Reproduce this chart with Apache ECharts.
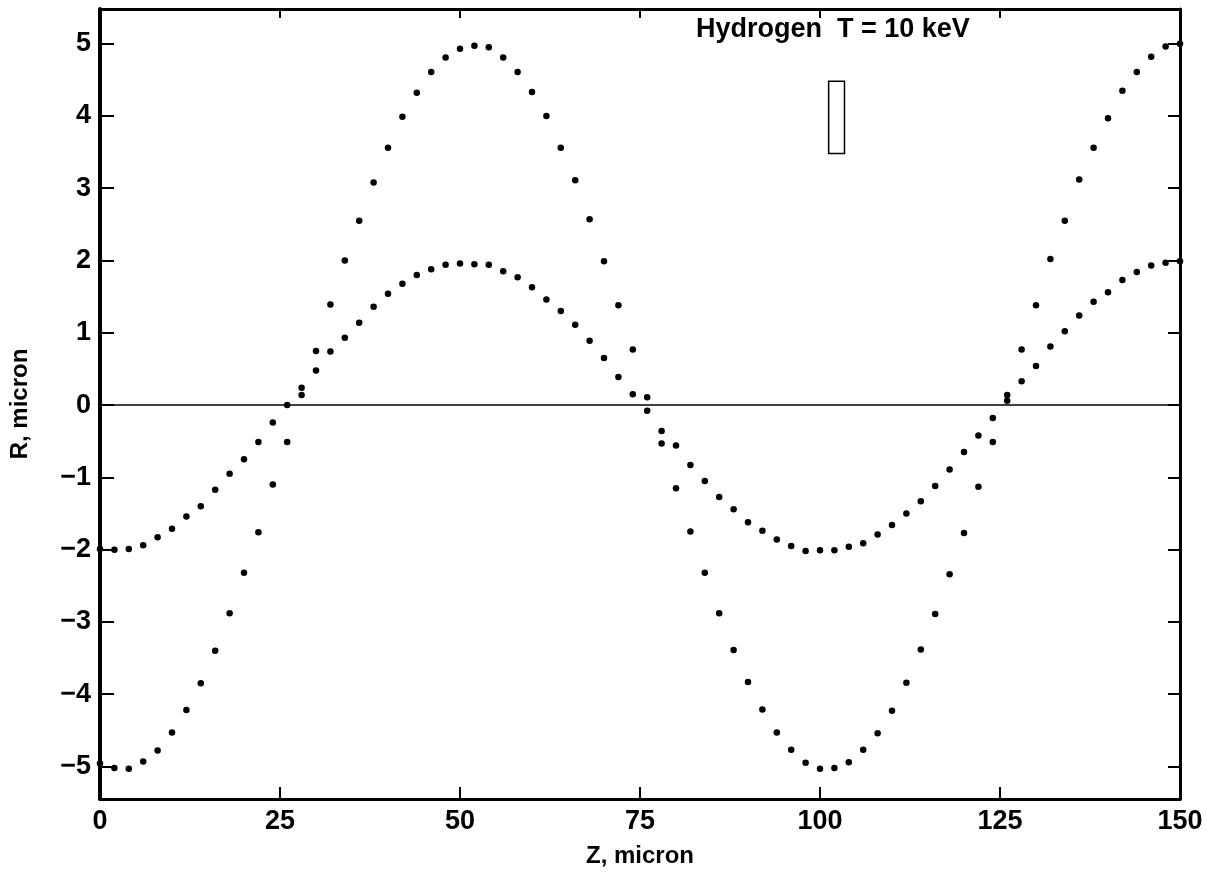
<!DOCTYPE html>
<html>
<head>
<meta charset="utf-8">
<title>Hydrogen T = 10 keV</title>
<script src="https://cdn.jsdelivr.net/npm/echarts@6.0.0/dist/echarts.min.js"></script>
<style>
  html, body { margin: 0; padding: 0; background: #fff; }
  #chart { width: 1207px; height: 875px; }
</style>
</head>
<body>
<div id="chart"></div>
<script>
// z positions of the plotted points (micron)
const zValues = [
  0, 2, 4, 6, 8, 10, 12, 14, 16, 18, 20, 22, 24, 26, 28, 30, 32, 34, 36, 38,
  40, 42, 44, 46, 48, 50, 52, 54, 56, 58, 60, 62, 64, 66, 68, 70, 72, 74, 76, 78,
  80, 82, 84, 86, 88, 90, 92, 94, 96, 98, 100, 102, 104, 106, 108, 110, 112, 114, 116, 118,
  120, 122, 124, 126, 128, 130, 132, 134, 136, 138, 140, 142, 144, 146, 148, 150,
];

// outer trajectory, R in micron
const outerR = [
  -4.96, -5.02, -5.03, -4.93, -4.78, -4.53, -4.22, -3.85, -3.40, -2.88,
  -2.32, -1.76, -1.10, -0.51, 0.14, 0.75, 1.39, 2.00, 2.55, 3.08,
  3.56, 3.99, 4.32, 4.61, 4.81, 4.93, 4.97, 4.95, 4.81, 4.61,
  4.33, 4.00, 3.56, 3.11, 2.57, 1.99, 1.38, 0.77, 0.11, -0.53,
  -1.15, -1.75, -2.32, -2.88, -3.39, -3.83, -4.21, -4.53, -4.77, -4.95,
  -5.03, -5.02, -4.94, -4.77, -4.54, -4.23, -3.84, -3.38, -2.89, -2.34,
  -1.77, -1.13, -0.51, 0.14, 0.77, 1.38, 2.02, 2.55, 3.12, 3.56,
  3.97, 4.35, 4.61, 4.82, 4.96, 5.00,
];

// inner trajectory, R in micron
const innerR = [
  -1.99, -2.00, -1.99, -1.94, -1.83, -1.71, -1.54, -1.40, -1.17, -0.95,
  -0.75, -0.51, -0.24, 0.00, 0.24, 0.48, 0.74, 0.93, 1.14, 1.36,
  1.54, 1.68, 1.80, 1.88, 1.94, 1.96, 1.95, 1.94, 1.85, 1.77,
  1.63, 1.46, 1.30, 1.11, 0.89, 0.65, 0.39, 0.15, -0.08, -0.36,
  -0.56, -0.83, -1.05, -1.27, -1.44, -1.62, -1.74, -1.86, -1.95, -2.02,
  -2.01, -2.01, -1.96, -1.91, -1.79, -1.66, -1.50, -1.33, -1.12, -0.89,
  -0.65, -0.42, -0.18, 0.06, 0.33, 0.54, 0.81, 1.02, 1.24, 1.43,
  1.56, 1.73, 1.84, 1.93, 1.97, 1.99,
];

const yTicks = [-5, -4, -3, -2, -1, 0, 1, 2, 3, 4, 5];
const annotation = "Hydrogen  T = 10 keV";
// small box under the annotation, in data units [z0, r0, z1, r1]
const boxCorners = [101.2, 4.48, 103.4, 3.48];

const FONT = '"Liberation Sans", Arial, Helvetica, sans-serif';
const INK = "#000";

function pairs(ys) {
  return zValues.map((z, i) => [z, ys[i]]);
}

function minusLabel(v) {
  return v < 0 ? "\u2212" + Math.abs(v) : String(v);
}

function initChart(dom) {
  const chart = echarts.init(dom, null, { renderer: "canvas" });

  const axisLine = { show: true, onZero: false, lineStyle: { color: INK, width: 3 } };
  const tickStyle = { color: INK, width: 2 };
  const labelStyle = { color: INK, fontFamily: FONT, fontWeight: "bold", fontSize: 27 };
  const nameStyle = { color: INK, fontFamily: FONT, fontWeight: "bold", fontSize: 24 };

  chart.setOption({
    animation: false,
    backgroundColor: "#fff",
    grid: { left: 100, right: 27, top: 9, bottom: 76, containLabel: false },
    xAxis: [
      {
        type: "value",
        position: "bottom",
        min: 0,
        max: 150,
        interval: 25,
        axisLine,
        axisTick: { inside: true, length: 12, lineStyle: tickStyle },
        axisLabel: { ...labelStyle, margin: 9 },
        splitLine: { show: false },
        name: "Z, micron",
        nameLocation: "middle",
        nameGap: 45,
        nameTextStyle: nameStyle,
      },
      {
        type: "value",
        position: "top",
        min: 0,
        max: 150,
        interval: 25,
        axisLine,
        axisTick: { inside: true, length: 9, lineStyle: tickStyle },
        axisLabel: { show: false },
        splitLine: { show: false },
      },
    ],
    yAxis: [
      {
        type: "value",
        position: "left",
        min: -5.45,
        max: 5.48,
        axisLine: { show: true, onZero: false, lineStyle: { color: INK, width: 4 } },
        axisTick: { inside: true, length: 14, customValues: yTicks, lineStyle: tickStyle },
        axisLabel: { ...labelStyle, margin: 9, customValues: yTicks, formatter: minusLabel },
        splitLine: { show: false },
        name: "R, micron",
        nameLocation: "middle",
        nameGap: 68,
        nameRotate: 90,
        nameTextStyle: nameStyle,
      },
      {
        type: "value",
        position: "right",
        min: -5.45,
        max: 5.48,
        axisLine,
        axisTick: { inside: true, length: 12, customValues: yTicks, lineStyle: tickStyle },
        axisLabel: { show: false },
        splitLine: { show: false },
      },
    ],
    series: [
      {
        name: "outer",
        type: "scatter",
        symbol: "circle",
        symbolSize: 6.5,
        itemStyle: { color: INK, opacity: 1 },
        data: pairs(outerR),
        markLine: {
          silent: true,
          symbol: "none",
          label: { show: false },
          lineStyle: { color: INK, width: 1.6, type: "solid" },
          data: [{ yAxis: 0 }],
        },
      },
      {
        name: "inner",
        type: "scatter",
        symbol: "circle",
        symbolSize: 6.5,
        itemStyle: { color: INK, opacity: 1 },
        data: pairs(innerR),
        markArea: {
          silent: true,
          itemStyle: { color: "rgba(0,0,0,0)", borderColor: INK, borderWidth: 1.5 },
          data: [[
            { xAxis: boxCorners[0], yAxis: boxCorners[1] },
            { xAxis: boxCorners[2], yAxis: boxCorners[3] },
          ]],
        },
      },
    ],
    graphic: [
      {
        type: "text",
        left: 696,
        top: 16,
        silent: true,
        style: {
          text: annotation,
          fill: INK,
          font: 'bold 27px "Liberation Sans", Arial, sans-serif',
        },
      },
    ],
  });
  return chart;
}

initChart(document.getElementById("chart"));
</script>
</body>
</html>
